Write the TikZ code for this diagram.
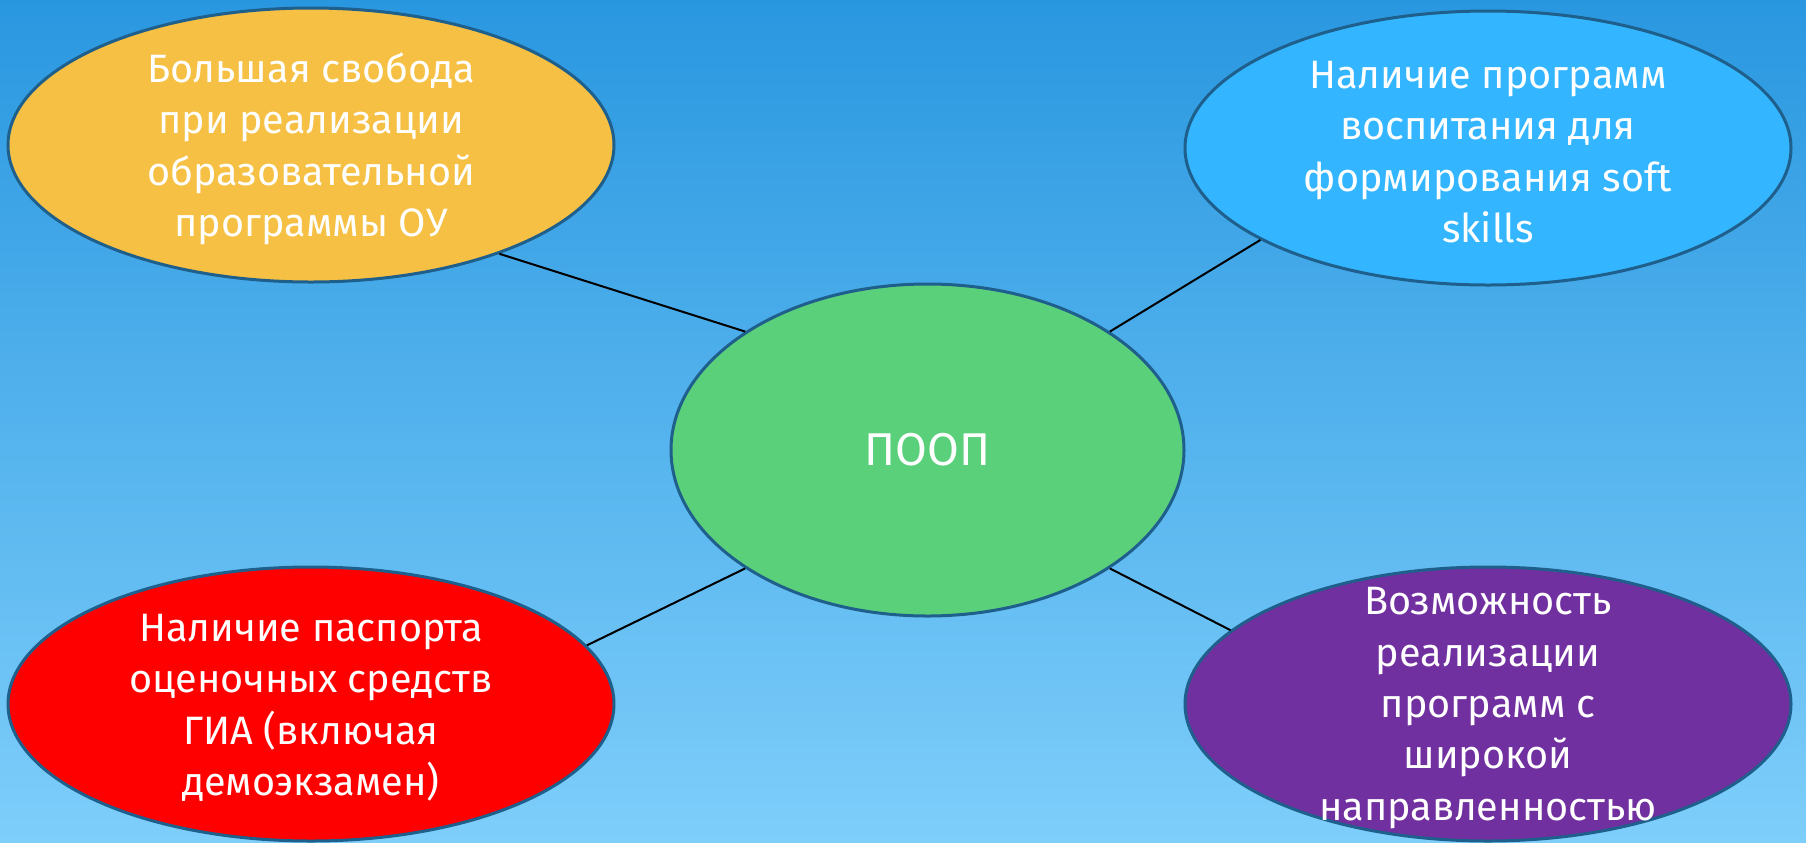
\documentclass[tikz,border=0pt]{standalone}
\usepackage{fontspec}
\setmainfont{Fira Sans}
\usepackage{tikz}
\usetikzlibrary{shapes,positioning}
\definecolor{FondHaut}{RGB}{41,151,224}
\definecolor{FondBas}{RGB}{126,206,250}
\definecolor{Bord}{RGB}{30,95,140}
\definecolor{Souci}{RGB}{245,192,67}
\definecolor{Azur}{RGB}{51,182,255}
\definecolor{Prairie}{RGB}{91,208,122}
\definecolor{Rouge}{RGB}{255,0,0}
\definecolor{Violette}{RGB}{112,48,160}

\begin{document}
\begin{tikzpicture}[x=0.5pt,y=-0.5pt,
  bulle/.style={ellipse,draw=Bord,line width=1.5pt,inner sep=0pt,minimum width=303pt,minimum height=137pt},
  texte/.style={text=white,align=center,font=\fontsize{19.8}{25.7}\selectfont}]
\useasboundingbox (0,0) rectangle (1806,842);
\shade[top color=FondHaut,bottom color=FondBas] (0,0) rectangle (1806,842);
%
% bulles
\node[bulle,fill=Prairie,minimum width=256.5pt,minimum height=166pt] (poop) at (927.5,450) {};
\node[bulle,fill=Souci] (svoboda) at (311,145) {};
\node[bulle,fill=Azur] (vospit) at (1488,148) {};
\node[bulle,fill=Rouge] (gia) at (311,704) {};
\node[bulle,fill=Violette] (shirok) at (1488,704) {};
%
% liens
\draw[line width=1pt] (svoboda.-30) -- (poop.147);
\draw[line width=1pt] (vospit.202) -- (poop.33);
\draw[line width=1pt] (gia.12) -- (poop.213);
\draw[line width=1pt] (shirok.164) -- (poop.-33);
%
% textes
\node[texte,font=\fontsize{23}{25.7}\selectfont] (poopTxt) at (poop) {ПООП};
\node[texte] (svobodaTxt) at ([yshift=-2pt]svoboda) {Большая свобода\\при реализации\\образовательной\\программы ОУ};
\node[texte] (vospitTxt) at ([yshift=-2pt]vospit) {Наличие программ\\воспитания для\\формирования soft\\skills};
\node[texte] (giaTxt) at ([yshift=-2pt]gia) {Наличие паспорта\\оценочных средств\\ГИА (включая\\демоэкзамен)};
\node[texte] (shirokTxt) at ([yshift=-2pt]shirok) {Возможность\\реализации\\программ с\\широкой\\направленностью};
%
\end{tikzpicture}
\end{document}
